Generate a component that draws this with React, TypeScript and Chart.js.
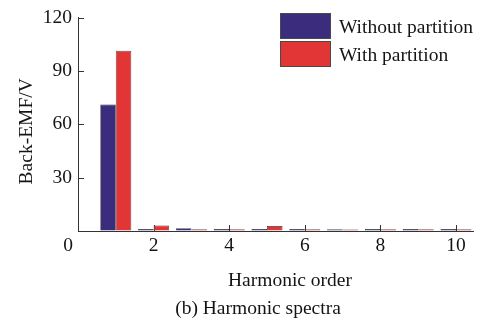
import { useEffect, useRef } from 'react';
import { Chart, registerables } from 'chart.js';

Chart.register(...registerables);

// ---- data ----
const harmonicOrders = [1, 2, 3, 4, 5, 6, 7, 8, 9, 10];
const withoutPartition = [71.2, 1.1, 1.6, 1.1, 1.1, 1.1, 1.0, 1.1, 1.1, 1.1];
const withPartition = [101.4, 3.1, 1.0, 1.0, 2.8, 1.0, 0.9, 1.0, 1.0, 1.0];
const seriesLabels = ['Without partition', 'With partition'];
const yTickValues = [0, 30, 60, 90, 120];
const xTickValues = [0, 2, 4, 6, 8, 10];
const xAxisTitle = 'Harmonic order';
const yAxisTitle = 'Back-EMF/V';
const caption = '(b) Harmonic spectra';

// ---- styles ----
const FONT_FAMILY = '"Liberation Serif", "Times New Roman", serif';
const FONT_SIZE = 19.5;
const TEXT_COLOR = '#141414';
const AXIS_COLOR = '#333333';
const BLUE = '#3b2c7e';
const RED = '#e23636';
const BAR_BORDER = '#2b2b2b';

const overlayPlugin = {
  id: 'overlayText',
  beforeDatasetsDraw(chart: any) {
    const { ctx, chartArea, scales } = chart;
    const xs = scales.x;
    const ys = scales.y;
    ctx.save();
    ctx.strokeStyle = AXIS_COLOR;
    ctx.lineWidth = 1;
    ctx.beginPath();
    yTickValues.filter((v) => v > 0).forEach((v) => {
      const py = Math.round(ys.getPixelForValue(v)) + 0.5;
      ctx.moveTo(chartArea.left, py);
      ctx.lineTo(chartArea.left + 6, py);
    });
    xTickValues.filter((v) => v > 0).forEach((v) => {
      const px = Math.round(xs.getPixelForValue(v)) + 0.5;
      ctx.moveTo(px, chartArea.bottom);
      ctx.lineTo(px, chartArea.bottom - 6);
    });
    ctx.stroke();
    ctx.restore();
  },
  afterDraw(chart: any) {
    const { ctx, chartArea, scales } = chart;
    const xs = scales.x;
    ctx.save();
    ctx.fillStyle = TEXT_COLOR;
    ctx.font = `${FONT_SIZE}px ${FONT_FAMILY}`;

    // origin label "0"
    ctx.textAlign = 'center';
    ctx.textBaseline = 'middle';
    ctx.fillText(String(xTickValues[0]), xs.getPixelForValue(0) - 10, chartArea.bottom + 3 + FONT_SIZE * 0.6);

    // x-axis title
    ctx.textBaseline = 'alphabetic';
    ctx.fillText(xAxisTitle, 290, 286);

    // caption
    ctx.fillText(caption, 258, 314);

    // y-axis title
    ctx.save();
    ctx.translate(32, (chartArea.top + chartArea.bottom) / 2 + 7);
    ctx.rotate(-Math.PI / 2);
    ctx.textAlign = 'center';
    ctx.fillText(yAxisTitle, 0, 0);
    ctx.restore();

    // legend
    const boxes = [
      { y: 13, h: 26, color: BLUE, label: seriesLabels[0] },
      { y: 41, h: 26, color: RED, label: seriesLabels[1] },
    ];
    boxes.forEach((b) => {
      ctx.fillStyle = b.color;
      ctx.fillRect(280, b.y, 51, b.h);
      ctx.strokeStyle = '#4a4a4a';
      ctx.lineWidth = 1;
      ctx.strokeRect(280.5, b.y + 0.5, 50, b.h - 1);
      ctx.fillStyle = TEXT_COLOR;
      ctx.textAlign = 'left';
      ctx.textBaseline = 'alphabetic';
      ctx.fillText(b.label, 339, b.y + b.h / 2 + 6.5);
    });
    ctx.restore();
  },
};

export default function App() {
  const canvasRef = useRef<HTMLCanvasElement | null>(null);

  useEffect(() => {
    document.body.style.margin = '0';
    const canvas = canvasRef.current;
    if (!canvas) return;
    const chart = new Chart(canvas, {
      type: 'bar',
      data: {
        datasets: [
          {
            label: seriesLabels[0],
            data: harmonicOrders.map((h, i) => ({ x: h, y: withoutPartition[i] })),
            backgroundColor: BLUE,
            borderColor: BAR_BORDER,
            borderWidth: 0.7,
            categoryPercentage: 0.82,
            barPercentage: 1,
          },
          {
            label: seriesLabels[1],
            data: harmonicOrders.map((h, i) => ({ x: h, y: withPartition[i] })),
            backgroundColor: RED,
            borderColor: BAR_BORDER,
            borderWidth: 0.7,
            categoryPercentage: 0.82,
            barPercentage: 1,
          },
        ],
      },
      options: {
        animation: false,
        responsive: false,
        maintainAspectRatio: false,
        devicePixelRatio: 1,
        layout: { padding: { top: 11, right: 9, left: 0, bottom: 0 } },
        plugins: {
          legend: { display: false },
          title: { display: false },
          tooltip: { enabled: false },
        },
        scales: {
          x: {
            type: 'linear',
            offset: false,
            min: 0,
            max: 10.45,
            afterFit: (s: any) => {
              s.height = 98;
            },
            afterBuildTicks: (s: any) => {
              s.ticks = xTickValues.map((v) => ({ value: v }));
            },
            ticks: {
              includeBounds: false,
              padding: 3,
              maxRotation: 0,
              autoSkip: false,
              color: TEXT_COLOR,
              font: { family: FONT_FAMILY, size: FONT_SIZE },
              callback: (v: any) => (Number(v) === 0 ? '' : String(v)),
            },
            grid: { display: true, drawOnChartArea: false, drawTicks: false },
            border: { display: true, color: AXIS_COLOR, width: 1 },
            title: { display: false },
          },
          y: {
            type: 'linear',
            min: 0,
            max: 120,
            afterFit: (s: any) => {
              s.width = 78;
            },
            afterBuildTicks: (s: any) => {
              s.ticks = yTickValues.map((v) => ({ value: v }));
            },
            ticks: {
              includeBounds: false,
              padding: 6,
              color: TEXT_COLOR,
              font: { family: FONT_FAMILY, size: FONT_SIZE },
              callback: (v: any) => (Number(v) === 0 ? '' : String(v)),
            },
            grid: { display: true, drawOnChartArea: false, drawTicks: false },
            border: { display: true, color: AXIS_COLOR, width: 1 },
            title: { display: false },
          },
        },
      },
      plugins: [overlayPlugin],
    });
    return () => chart.destroy();
  }, []);

  return (
    <div style={{ width: 482, height: 329, background: '#ffffff' }}>
      <canvas ref={canvasRef} width={482} height={329} style={{ display: 'block' }} />
    </div>
  );
}
